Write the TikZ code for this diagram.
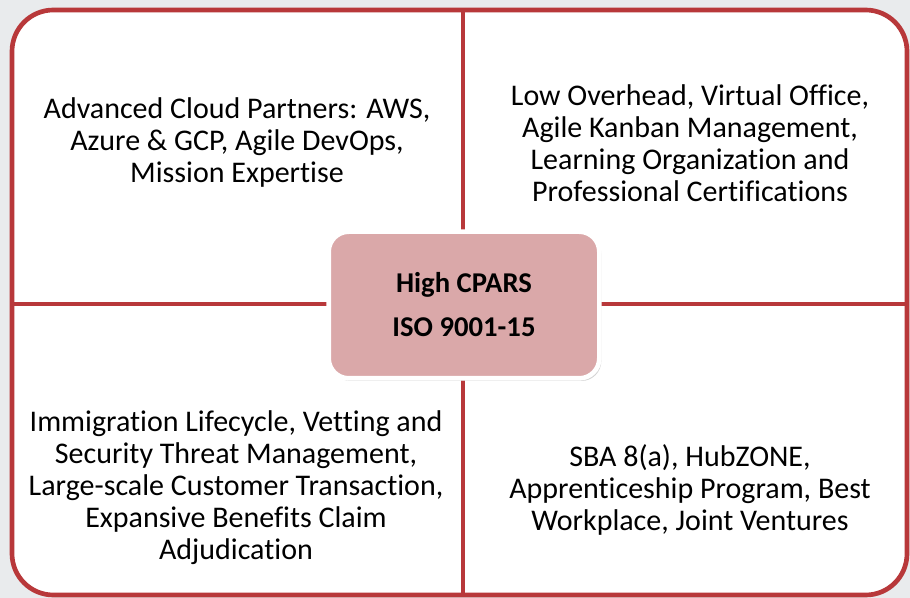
\documentclass[tikz,border=0pt]{standalone}
\usepackage{fontspec}
\setmainfont[Ligatures={NoCommon}]{Carlito}
\usetikzlibrary{shadows}
\definecolor{quadred}{RGB}{184,56,58}
\definecolor{corepink}{RGB}{218,168,169}
\definecolor{bggray}{RGB}{233,235,237}
\tikzset{every picture/.style={line width=0.75pt}}
\tikzset{
  quadtext/.style={align=center, inner sep=0.75pt, text=black, font=\fontsize{22.5}{24}\selectfont},
  corebox/.style={draw=white, line width=3.5pt, fill=corepink, rounded corners=15pt, minimum width=203pt, minimum height=110pt, align=center, font=\bfseries\fontsize{21.5}{33}\selectfont, drop shadow={shadow xshift=1.5pt, shadow yshift=-2pt, opacity=0.35}}
}

\begin{document}
\begin{tikzpicture}[x=0.75pt,y=0.75pt,yscale=-1,xscale=1]
%set diagram to the full size of the slide
\path [fill=bggray] (0,0) rectangle (910,598);

%Shape: Rounded Rect [id:outer]
\draw [quadred, line width=3.5pt, fill=white, rounded corners=31pt, drop shadow={shadow xshift=1pt, shadow yshift=-1.5pt, opacity=0.25}] (12,10) rectangle (907,595);
%Straight Lines [id:vdiv]
\coordinate (vtop) at (463,10);
\coordinate (vbot) at (463,595);
\draw [quadred, line width=3pt] (vtop) -- (vbot);
%Straight Lines [id:hdiv]
\coordinate (hleft) at (12,304);
\coordinate (hright) at (907,304);
\draw [quadred, line width=3pt] (hleft) -- (hright);

% Centre Node
\node (core) at (464,305) [corebox] {High CPARS\\ISO 9001-15};

% Text Node
\node (cloud) at (237,143) [quadtext] {Advanced Cloud Partners: AWS,\\Azure \& GCP, Agile DevOps,\\Mission Expertise};
% Text Node
\node (office) at (690,143) [quadtext] {Low Overhead, Virtual Office,\\Agile Kanban Management,\\Learning Organization and\\Professional Certifications};
% Text Node
\node (vetting) at (236,488) [quadtext] {Immigration Lifecycle, Vetting and\\Security Threat Management,\\Large-scale Customer Transaction,\\Expansive Benefits Claim\\Adjudication};
% Text Node
\node (sba) at (690,490) [quadtext] {SBA 8(a), HubZONE,\\Apprenticeship Program, Best\\Workplace, Joint Ventures};

\end{tikzpicture}
\end{document}
